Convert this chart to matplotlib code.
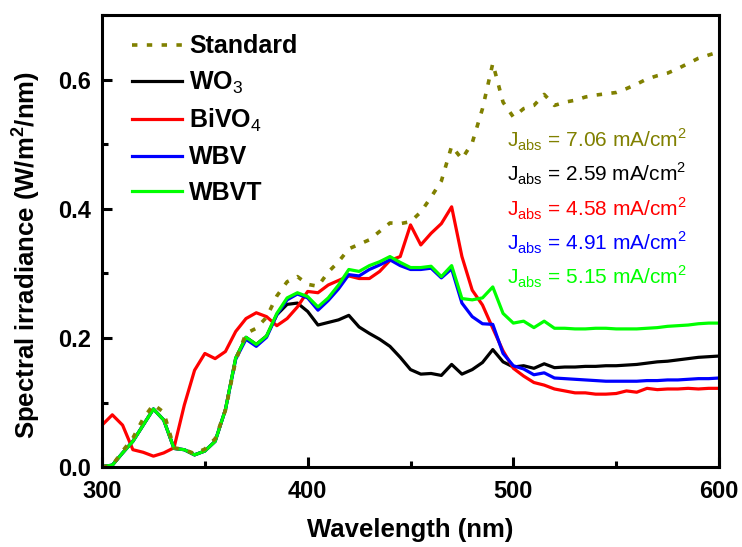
import matplotlib
matplotlib.use('Agg')
import matplotlib.pyplot as plt
from matplotlib.ticker import MultipleLocator, FormatStrFormatter

plt.rcParams['font.family'] = ['Liberation Sans', 'DejaVu Sans']
plt.rcParams['mathtext.fontset'] = 'custom'
plt.rcParams['mathtext.rm'] = 'Liberation Sans'
plt.rcParams['mathtext.bf'] = 'Liberation Sans:bold'

# wavelength grid (nm), 5 nm steps
wavelength = list(range(300, 605, 5))

standard = [0.000, 0.003, 0.025, 0.045, 0.075, 0.097, 0.085, 0.030, 0.027, 0.021,
            0.028, 0.044, 0.088, 0.165, 0.207, 0.215, 0.232, 0.265, 0.287, 0.295,
            0.283, 0.280, 0.302, 0.318, 0.338, 0.345, 0.352, 0.365, 0.378, 0.377,
            0.380, 0.395, 0.418, 0.443, 0.497, 0.477, 0.502, 0.555, 0.625, 0.565,
            0.542, 0.555, 0.560, 0.577, 0.560, 0.565, 0.568, 0.573, 0.576, 0.578,
            0.580, 0.586, 0.593, 0.601, 0.606, 0.610, 0.617, 0.625, 0.633, 0.638,
            0.643]

wo3 = [0.001, 0.003, 0.022, 0.040, 0.065, 0.090, 0.073, 0.029, 0.027, 0.019,
       0.025, 0.040, 0.089, 0.169, 0.201, 0.190, 0.203, 0.236, 0.252, 0.254,
       0.241, 0.220, 0.224, 0.228, 0.235, 0.217, 0.207, 0.198, 0.187, 0.170,
       0.151, 0.144, 0.145, 0.142, 0.159, 0.144, 0.151, 0.162, 0.182, 0.163,
       0.155, 0.157, 0.153, 0.160, 0.154, 0.155, 0.155, 0.156, 0.156, 0.157,
       0.157, 0.158, 0.159, 0.161, 0.163, 0.164, 0.166, 0.168, 0.170, 0.171,
       0.172]

bivo4 = [0.065, 0.081, 0.065, 0.027, 0.023, 0.017, 0.022, 0.030, 0.096, 0.150,
         0.176, 0.168, 0.179, 0.210, 0.230, 0.239, 0.233, 0.219, 0.230, 0.248,
         0.272, 0.270, 0.282, 0.289, 0.296, 0.292, 0.292, 0.303, 0.320, 0.326,
         0.375, 0.344, 0.362, 0.377, 0.403, 0.326, 0.274, 0.251, 0.215, 0.180,
         0.153, 0.141, 0.131, 0.127, 0.121, 0.118, 0.115, 0.115, 0.113, 0.113,
         0.114, 0.118, 0.116, 0.122, 0.120, 0.121, 0.121, 0.122, 0.121, 0.122,
         0.122]

wbv = [0.001, 0.003, 0.022, 0.040, 0.065, 0.090, 0.073, 0.029, 0.027, 0.019,
       0.025, 0.040, 0.089, 0.167, 0.198, 0.187, 0.201, 0.236, 0.259, 0.268,
       0.262, 0.243, 0.258, 0.276, 0.298, 0.296, 0.306, 0.313, 0.321, 0.312,
       0.306, 0.306, 0.308, 0.293, 0.307, 0.254, 0.233, 0.222, 0.221, 0.176,
       0.157, 0.152, 0.143, 0.146, 0.138, 0.137, 0.136, 0.135, 0.134, 0.133,
       0.133, 0.133, 0.133, 0.134, 0.134, 0.135, 0.135, 0.136, 0.137, 0.137,
       0.138]

wbvt = [0.001, 0.003, 0.022, 0.040, 0.065, 0.090, 0.073, 0.029, 0.027, 0.019,
        0.025, 0.040, 0.089, 0.169, 0.201, 0.190, 0.203, 0.238, 0.262, 0.270,
        0.264, 0.248, 0.262, 0.282, 0.306, 0.303, 0.312, 0.318, 0.326, 0.317,
        0.309, 0.309, 0.311, 0.295, 0.312, 0.261, 0.259, 0.262, 0.279, 0.238,
        0.223, 0.226, 0.216, 0.226, 0.215, 0.215, 0.214, 0.214, 0.215, 0.215,
        0.214, 0.214, 0.214, 0.215, 0.216, 0.218, 0.219, 0.220, 0.222, 0.223,
        0.223]

jabs_values = ['7.06', '2.59', '4.58', '4.91', '5.15']
jabs_colors = ['#808000', 'black', '#ff0000', '#0000ff', '#00ff00']

fig = plt.figure(figsize=(7.42, 5.47), dpi=100)
ax = fig.add_axes([0.1375, 0.146, 0.8315, 0.8266])

lw = 2.3
ax.plot(wavelength, wo3, color='black', lw=lw, label='WO$_3$')
ax.plot(wavelength, bivo4, color='#ff0000', lw=lw, label='BiVO$_4$')
ax.plot(wavelength, wbv, color='#0000ff', lw=lw, label='WBV')
ax.plot(wavelength, wbvt, color='#00ff00', lw=lw, label='WBVT')
ax.plot(wavelength, standard, color='#808000', lw=2.6,
        linestyle=(0, (1.5, 2.6)), label='Standard')

# legend order: Standard first
h, l = ax.get_legend_handles_labels()
order = [4, 0, 1, 2, 3]
ax.legend([h[i] for i in order], [l[i] for i in order], loc='upper left',
          frameon=False, prop={'weight': 'bold', 'size': 18},
          handlelength=2.0, handletextpad=0.3, labelspacing=0.45,
          borderaxespad=0.3, bbox_to_anchor=(0.02, 0.996))

# Jabs annotations
y0 = 0.495
for i, (v, c) in enumerate(zip(jabs_values, jabs_colors)):
    ax.text(496.7, y0 - i * 0.0530, r'J$_{\rm abs}$ = ' + v + r' mA/cm$^2$',
            color=c, fontsize=15, ha='left', va='baseline')

ax.set_xlim(300, 600)
ax.set_ylim(0, 0.70)
ax.xaxis.set_major_locator(MultipleLocator(100))
ax.xaxis.set_minor_locator(MultipleLocator(50))
ax.yaxis.set_major_locator(MultipleLocator(0.2))
ax.yaxis.set_minor_locator(MultipleLocator(0.1))
ax.yaxis.set_major_formatter(FormatStrFormatter('%.1f'))

for s in ax.spines.values():
    s.set_linewidth(2.2)
ax.tick_params(which='major', direction='in', length=7, width=2.2,
               labelsize=17)
ax.tick_params(axis='x', which='major', pad=9)
ax.tick_params(axis='y', which='major', pad=8)
ax.tick_params(which='minor', direction='in', length=4, width=2.2)
for lab in ax.get_xticklabels() + ax.get_yticklabels():
    lab.set_fontweight('bold')

ax.set_xlabel('Wavelength (nm)', fontsize=18.5, fontweight='bold', labelpad=11)
ax.set_ylabel(r'Spectral irradiance (W/m$^\mathbf{2}$/nm)', fontsize=18.5,
              fontweight='bold')
ax.yaxis.set_label_coords(-0.097, 0.47)

fig.savefig('out.png', dpi=100)
